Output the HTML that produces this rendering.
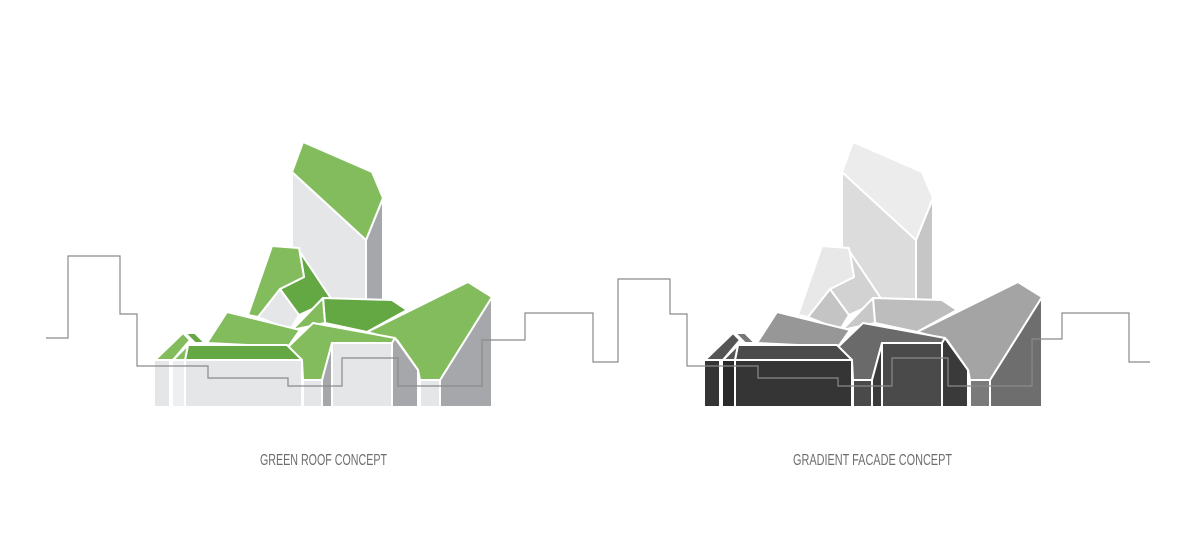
<!DOCTYPE html>
<html><head><meta charset="utf-8"><style>
html,body{margin:0;padding:0;background:#fff;}
svg{display:block}
text{font-family:"Liberation Sans",sans-serif;font-size:16px;fill:#6d6d6d;}
</style></head><body>
<svg width="1200" height="556" viewBox="0 0 1200 556" xmlns="http://www.w3.org/2000/svg">
<g stroke="#fff" stroke-width="2" stroke-linejoin="round">
  <polygon fill="#e5e6e8" points="292,172 366,240 366,300 292,300"/>
  <polygon fill="#a6a7aa" points="366,240 383,198 383,300 366,300"/>
  <polygon fill="#82bc5c" points="303,142 372,172 383,198 366,240 292,172"/>
  <polygon fill="#e5e6e8" points="258,317 280,289 299,315 290,330"/>
  <polygon fill="#64a843" points="300,252 332,300 299,315 280,289 304,277"/>
  <polygon fill="#82bc5c" points="272,246 299,248 304,277 280,289 258,317 248,315"/>
  <polygon fill="#64a843" points="323,298 392,300 407,310 367,332 325,323"/>
  <polygon fill="#82bc5c" points="323,298 325,323 292,330"/>
  <polygon fill="#a6a7aa" points="492,297 492,407 440,407 440,380"/>
  <polygon fill="#82bc5c" points="367,332 468,282 492,297 440,380 420,380 418,370 397,340"/>
  <polygon fill="#e5e6e8" points="420,380 440,380 440,407 420,407"/>
  <polygon fill="#82bc5c" points="227,312 300,330 288,347 207,343"/>
  <polygon fill="#82bc5c" points="313,323 395,338 392,343 332,343 322,380 303,380 302,360 288,347"/>
  <polygon fill="#e5e6e8" points="332,343 392,343 392,407 332,407"/>
  <polygon fill="#a6a7aa" points="322,380 332,343 332,407 322,407"/>
  <polygon fill="#a6a7aa" points="392,343 395,338 418,370 418,407 392,407"/>
  <polygon fill="#e5e6e8" points="303,380 322,380 322,407 303,407"/>
  <polygon fill="#e5e6e8" points="185,360 302,360 302,407 185,407"/>
  <polygon fill="#e5e6e8" points="154,360 170,360 170,407 154,407"/>
  <polygon fill="#eeeff0" points="172,360 185,360 185,407 172,407"/>
  <polygon fill="#64a843" points="188,345 287,345 302,360 185,360"/>
  <polygon fill="#82bc5c" points="155,360 183,333 190,340 173,360"/>
  <polygon fill="#82bc5c" points="173,360 188,345 185,360"/>
  <polygon fill="#64a843" points="185,333 195,333 205,343 195,343"/>
</g>
<g stroke="#fff" stroke-width="2" stroke-linejoin="round" transform="translate(550,0)">
  <polygon fill="#dcdcdd" points="292,172 366,240 366,300 292,300"/>
  <polygon fill="#c6c6c6" points="366,240 383,198 383,300 366,300"/>
  <polygon fill="#ececec" points="303,142 372,172 383,198 366,240 292,172"/>
  <polygon fill="#c4c4c4" points="258,317 280,289 299,315 290,330"/>
  <polygon fill="#d2d2d2" points="300,252 332,300 299,315 280,289 304,277"/>
  <polygon fill="#e8e8e8" points="272,246 299,248 304,277 280,289 258,317 248,315"/>
  <polygon fill="#bdbdbd" points="323,298 392,300 407,310 367,332 325,323"/>
  <polygon fill="#c8c8c8" points="323,298 325,323 292,330"/>
  <polygon fill="#6e6e6e" points="492,297 492,407 440,407 440,380"/>
  <polygon fill="#a4a4a4" points="367,332 468,282 492,297 440,380 420,380 418,370 397,340"/>
  <polygon fill="#7a7a7a" points="420,380 440,380 440,407 420,407"/>
  <polygon fill="#979797" points="227,312 300,330 288,347 207,343"/>
  <polygon fill="#6a6a6a" points="313,323 395,338 392,343 332,343 322,380 303,380 302,360 288,347"/>
  <polygon fill="#4a4a4a" points="332,343 392,343 392,407 332,407"/>
  <polygon fill="#3a3a3a" points="322,380 332,343 332,407 322,407"/>
  <polygon fill="#3a3a3a" points="392,343 395,338 418,370 418,407 392,407"/>
  <polygon fill="#4a4a4a" points="303,380 322,380 322,407 303,407"/>
  <polygon fill="#353535" points="185,360 302,360 302,407 185,407"/>
  <polygon fill="#353535" points="154,360 170,360 170,407 154,407"/>
  <polygon fill="#2a2a2a" points="172,360 185,360 185,407 172,407"/>
  <polygon fill="#4a4a4a" points="188,345 287,345 302,360 185,360"/>
  <polygon fill="#555555" points="155,360 183,333 190,340 173,360"/>
  <polygon fill="#555555" points="173,360 188,345 185,360"/>
  <polygon fill="#777777" points="185,333 195,333 205,343 195,343"/>
</g>
<polyline fill="none" stroke="#8a8a8a" stroke-width="1.2" points="46,338 68,338 68,256 120,256 120,314 137,314 137,366 208,366 208,378 288,378 288,386 342,386 342,358 398,358 398,386 482,386 482,340 525,340 525,313 593,313 593,362 618,362 618,279 670,279 670,314 687,314 687,366 758,366 758,378 838,378 838,386 892,386 892,358 948,358 948,386 1032,386 1032,339 1062,339 1062,313 1129,313 1129,362 1150,362"/>
<text x="260" y="465" textLength="127" lengthAdjust="spacingAndGlyphs">GREEN ROOF CONCEPT</text>
<text x="793" y="465" textLength="159" lengthAdjust="spacingAndGlyphs">GRADIENT FACADE CONCEPT</text>
</svg>
</body></html>
